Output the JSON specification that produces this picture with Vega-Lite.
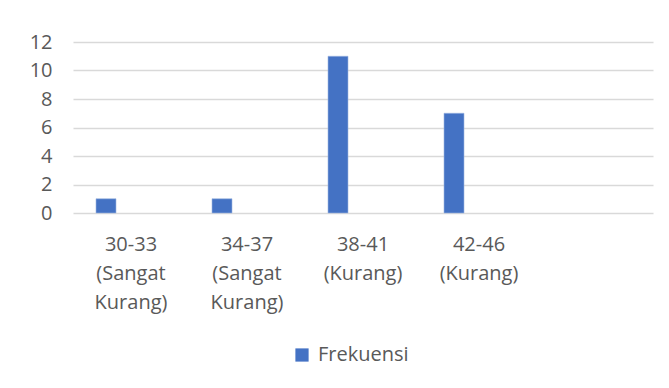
{
  "$schema": "https://vega.github.io/schema/vega-lite/v6.json",
  "autosize": "none",
  "padding": {"left": 73, "top": 42, "right": 16, "bottom": 175},
  "width": 580,
  "height": 171,
  "background": "#ffffff",
  "data": {
    "values": [
      {"kategori": "30-33 (Sangat Kurang)", "seri": "Frekuensi", "nilai": 1},
      {"kategori": "34-37 (Sangat Kurang)", "seri": "Frekuensi", "nilai": 1},
      {"kategori": "38-41 (Kurang)", "seri": "Frekuensi", "nilai": 11},
      {"kategori": "42-46 (Kurang)", "seri": "Frekuensi", "nilai": 7}
    ]
  },
  "mark": {"type": "bar", "stroke": "#9DB5E0", "strokeWidth": 0.6},
  "encoding": {
    "x": {
      "field": "kategori",
      "type": "nominal",
      "sort": null,
      "scale": {
        "domain": ["30-33 (Sangat Kurang)", "34-37 (Sangat Kurang)", "38-41 (Kurang)", "42-46 (Kurang)", ""],
        "paddingInner": 0,
        "paddingOuter": 0
      },
      "axis": {
        "title": null,
        "labelAngle": 0,
        "domain": false,
        "ticks": false,
        "labelPadding": 21,
        "labelFont": "Open Sans",
        "labelFontSize": 20,
        "labelColor": "#595959",
        "labelLineHeight": 29,
        "labelExpr": "split(datum.label, ' ')"
      }
    },
    "xOffset": {
      "field": "seri",
      "type": "nominal",
      "scale": {"domain": ["Frekuensi", "_"], "paddingInner": 0.6, "paddingOuter": 0.46}
    },
    "y": {
      "field": "nilai",
      "type": "quantitative",
      "scale": {"domain": [0, 12], "nice": false},
      "axis": {
        "title": null,
        "values": [0, 2, 4, 6, 8, 10, 12],
        "domain": false,
        "ticks": false,
        "labelPadding": 21,
        "labelFont": "Open Sans",
        "labelFontSize": 20,
        "labelColor": "#595959",
        "gridColor": "#D9D9D9",
        "gridWidth": 1.3
      }
    },
    "color": {
      "field": "seri",
      "type": "nominal",
      "scale": {"domain": ["Frekuensi"], "range": ["#4472C4"]},
      "legend": {
        "title": null,
        "orient": "none",
        "legendX": 219,
        "legendY": 303,
        "symbolType": "square",
        "symbolSize": 175,
        "symbolStrokeWidth": 0,
        "labelOffset": 6,
        "labelFont": "Open Sans",
        "labelFontSize": 20,
        "labelColor": "#595959"
      }
    }
  },
  "config": {"view": {"stroke": null}}
}
